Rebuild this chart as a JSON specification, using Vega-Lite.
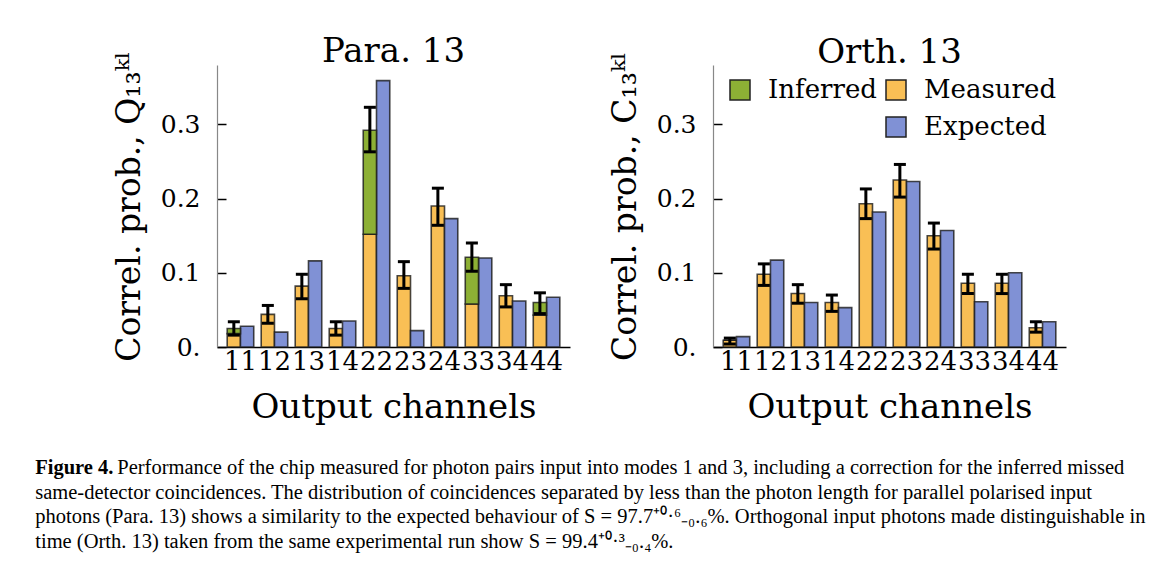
{
  "$schema": "https://vega.github.io/schema/vega-lite/v6.json",
  "background": "white",
  "padding": {"left": 35, "top": 34, "right": 5, "bottom": 5},
  "title": {
    "text": "Figure 4.",
    "subtitle": [
      "\u200B\u2003\u2003\u2003\u2003Performance of the chip measured for photon pairs input into modes 1 and 3, including a correction for the inferred missed",
      "same-detector coincidences. The distribution of coincidences separated by less than the photon length for parallel polarised input",
      "photons (Para. 13) shows a similarity to the expected behaviour of S = 97.7⁺⁰·⁶₋₀.₆%. Orthogonal input photons made distinguishable in",
      "time (Orth. 13) taken from the same experimental run show S = 99.4⁺⁰·³₋₀.₄%."
    ],
    "orient": "bottom",
    "anchor": "start",
    "frame": "bounds",
    "dx": -78,
    "offset": 34,
    "font": "Liberation Serif",
    "fontSize": 20.5,
    "fontWeight": "bold",
    "color": "black",
    "subtitleFont": "Liberation Serif",
    "subtitleFontSize": 20.5,
    "subtitleFontWeight": "normal",
    "subtitleColor": "black",
    "subtitleLineHeight": 24.7,
    "subtitlePadding": -20.5
  },
  "config": {
    "font": "DejaVu Serif",
    "view": {"stroke": null},
    "title": {"font": "DejaVu Serif", "fontSize": 34, "fontWeight": "normal", "color": "black", "offset": -18, "baseline": "alphabetic"},
    "axisY": {"domainColor": "#888888", "domainWidth": 1.2, "tickColor": "black", "tickWidth": 1.5, "tickSize": -9, "labelFont": "DejaVu Serif", "labelFontSize": 25, "labelColor": "black", "labelPadding": 26, "titleFont": "DejaVu Serif", "titleFontSize": 33, "titleFontWeight": "normal", "titleColor": "black", "titlePadding": 14, "grid": false},
    "axisX": {"domainColor": "black", "domainWidth": 1.5, "ticks": false, "labelFont": "DejaVu Serif", "labelFontSize": 26, "labelColor": "black", "labelPadding": 1, "labelAngle": 0, "labelOverlap": false, "titleFont": "DejaVu Serif", "titleFontSize": 34, "titleFontWeight": "normal", "titleColor": "black", "titlePadding": 16, "grid": false},
    "legend": {"symbolType": "square", "symbolSize": 400, "symbolStrokeColor": "#222222", "symbolStrokeWidth": 1.5, "labelFont": "DejaVu Serif", "labelFontSize": 26, "labelColor": "black", "labelOffset": 15, "rowPadding": 11, "padding": 0, "symbolOpacity": 1}
  },
  "datasets": {
    "bars": [
      {"panel": "Para", "ch": "11", "series": "Measured", "value": 0.018},
      {"panel": "Para", "ch": "11", "series": "Expected", "value": 0.028},
      {"panel": "Para", "ch": "12", "series": "Measured", "value": 0.044},
      {"panel": "Para", "ch": "12", "series": "Expected", "value": 0.020},
      {"panel": "Para", "ch": "13", "series": "Measured", "value": 0.082},
      {"panel": "Para", "ch": "13", "series": "Expected", "value": 0.116},
      {"panel": "Para", "ch": "14", "series": "Measured", "value": 0.025},
      {"panel": "Para", "ch": "14", "series": "Expected", "value": 0.035},
      {"panel": "Para", "ch": "22", "series": "Measured", "value": 0.152},
      {"panel": "Para", "ch": "22", "series": "Expected", "value": 0.359},
      {"panel": "Para", "ch": "23", "series": "Measured", "value": 0.096},
      {"panel": "Para", "ch": "23", "series": "Expected", "value": 0.022},
      {"panel": "Para", "ch": "24", "series": "Measured", "value": 0.190},
      {"panel": "Para", "ch": "24", "series": "Expected", "value": 0.173},
      {"panel": "Para", "ch": "33", "series": "Measured", "value": 0.058},
      {"panel": "Para", "ch": "33", "series": "Expected", "value": 0.120},
      {"panel": "Para", "ch": "34", "series": "Measured", "value": 0.069},
      {"panel": "Para", "ch": "34", "series": "Expected", "value": 0.062},
      {"panel": "Para", "ch": "44", "series": "Measured", "value": 0.043},
      {"panel": "Para", "ch": "44", "series": "Expected", "value": 0.067},
      {"panel": "Orth", "ch": "11", "series": "Measured", "value": 0.009},
      {"panel": "Orth", "ch": "11", "series": "Expected", "value": 0.014},
      {"panel": "Orth", "ch": "12", "series": "Measured", "value": 0.098},
      {"panel": "Orth", "ch": "12", "series": "Expected", "value": 0.117},
      {"panel": "Orth", "ch": "13", "series": "Measured", "value": 0.072},
      {"panel": "Orth", "ch": "13", "series": "Expected", "value": 0.060},
      {"panel": "Orth", "ch": "14", "series": "Measured", "value": 0.060},
      {"panel": "Orth", "ch": "14", "series": "Expected", "value": 0.053},
      {"panel": "Orth", "ch": "22", "series": "Measured", "value": 0.193},
      {"panel": "Orth", "ch": "22", "series": "Expected", "value": 0.182},
      {"panel": "Orth", "ch": "23", "series": "Measured", "value": 0.225},
      {"panel": "Orth", "ch": "23", "series": "Expected", "value": 0.223},
      {"panel": "Orth", "ch": "24", "series": "Measured", "value": 0.150},
      {"panel": "Orth", "ch": "24", "series": "Expected", "value": 0.157},
      {"panel": "Orth", "ch": "33", "series": "Measured", "value": 0.086},
      {"panel": "Orth", "ch": "33", "series": "Expected", "value": 0.061},
      {"panel": "Orth", "ch": "34", "series": "Measured", "value": 0.086},
      {"panel": "Orth", "ch": "34", "series": "Expected", "value": 0.100},
      {"panel": "Orth", "ch": "44", "series": "Measured", "value": 0.026},
      {"panel": "Orth", "ch": "44", "series": "Expected", "value": 0.034}
    ],
    "inferred": [
      {"panel": "Para", "ch": "11", "series": "Measured", "kind": "Inferred", "measured": 0.018, "total": 0.025},
      {"panel": "Para", "ch": "22", "series": "Measured", "kind": "Inferred", "measured": 0.152, "total": 0.292},
      {"panel": "Para", "ch": "33", "series": "Measured", "kind": "Inferred", "measured": 0.058, "total": 0.121},
      {"panel": "Para", "ch": "44", "series": "Measured", "kind": "Inferred", "measured": 0.043, "total": 0.060},
      {"panel": "Orth", "ch": "11", "series": "Measured", "kind": "Inferred", "measured": 0.009, "total": 0.009}
    ],
    "errs": [
      {"panel": "Para", "ch": "11", "series": "Measured", "lo": 0.016, "hi": 0.034},
      {"panel": "Para", "ch": "12", "series": "Measured", "lo": 0.032, "hi": 0.056},
      {"panel": "Para", "ch": "13", "series": "Measured", "lo": 0.065, "hi": 0.098},
      {"panel": "Para", "ch": "14", "series": "Measured", "lo": 0.016, "hi": 0.034},
      {"panel": "Para", "ch": "22", "series": "Measured", "lo": 0.263, "hi": 0.323},
      {"panel": "Para", "ch": "23", "series": "Measured", "lo": 0.079, "hi": 0.115},
      {"panel": "Para", "ch": "24", "series": "Measured", "lo": 0.164, "hi": 0.214},
      {"panel": "Para", "ch": "33", "series": "Measured", "lo": 0.102, "hi": 0.140},
      {"panel": "Para", "ch": "34", "series": "Measured", "lo": 0.054, "hi": 0.084},
      {"panel": "Para", "ch": "44", "series": "Measured", "lo": 0.045, "hi": 0.073},
      {"panel": "Orth", "ch": "11", "series": "Measured", "lo": 0.004, "hi": 0.012},
      {"panel": "Orth", "ch": "12", "series": "Measured", "lo": 0.083, "hi": 0.112},
      {"panel": "Orth", "ch": "13", "series": "Measured", "lo": 0.059, "hi": 0.084},
      {"panel": "Orth", "ch": "14", "series": "Measured", "lo": 0.048, "hi": 0.070},
      {"panel": "Orth", "ch": "22", "series": "Measured", "lo": 0.173, "hi": 0.213},
      {"panel": "Orth", "ch": "23", "series": "Measured", "lo": 0.202, "hi": 0.246},
      {"panel": "Orth", "ch": "24", "series": "Measured", "lo": 0.132, "hi": 0.167},
      {"panel": "Orth", "ch": "33", "series": "Measured", "lo": 0.072, "hi": 0.098},
      {"panel": "Orth", "ch": "34", "series": "Measured", "lo": 0.072, "hi": 0.098},
      {"panel": "Orth", "ch": "44", "series": "Measured", "lo": 0.020, "hi": 0.034}
    ]
  },
  "hconcat": [
    {
      "width": 353,
      "height": 282,
      "title": {"text": "Para. 13"},
      "layer": [
        {
          "data": {"name": "bars"},
          "transform": [{"filter": "datum.panel === 'Para'"}],
          "mark": {"type": "bar", "stroke": "#1a1a1a", "strokeWidth": 1.6, "strokeOpacity": 0.8},
          "encoding": {
            "x": {"field": "ch", "type": "nominal", "title": "Output channels", "scale": {"paddingInner": 0.22, "paddingOuter": 0.3}},
            "xOffset": {"field": "series", "type": "nominal", "scale": {"domain": ["Measured", "Expected"], "paddingInner": 0, "paddingOuter": 0}},
            "y": {"field": "value", "type": "quantitative", "title": "Correl. prob., Q₁₃ᵏˡ", "scale": {"domain": [0, 0.38], "nice": false}, "axis": {"values": [0, 0.1, 0.2, 0.3], "labelExpr": "datum.value == 0 ? '0.' : format(datum.value, '.1f')"}},
            "fill": {"field": "series", "type": "nominal", "scale": {"domain": ["Measured", "Expected"], "range": ["#F9BF55", "#8091D5"]}, "legend": null}
          }
        },
        {
          "data": {"name": "inferred"},
          "transform": [{"filter": "datum.panel === 'Para'"}],
          "mark": {"type": "bar", "stroke": "#1a1a1a", "strokeWidth": 1.6, "strokeOpacity": 0.8},
          "encoding": {
            "x": {"field": "ch", "type": "nominal"},
            "xOffset": {"field": "series", "type": "nominal"},
            "y": {"field": "total", "type": "quantitative"},
            "y2": {"field": "measured"},
            "fill": {"field": "kind", "type": "nominal", "scale": {"domain": ["Inferred"], "range": ["#8DB035"]}, "legend": null}
          }
        },
        {
          "data": {"name": "errs"},
          "transform": [{"filter": "datum.panel === 'Para'"}],
          "mark": {"type": "rule", "strokeWidth": 3, "color": "black"},
          "encoding": {
            "x": {"field": "ch", "type": "nominal"},
            "xOffset": {"field": "series", "type": "nominal"},
            "y": {"field": "lo", "type": "quantitative"},
            "y2": {"field": "hi"}
          }
        },
        {
          "data": {"name": "errs"},
          "transform": [{"filter": "datum.panel === 'Para'"}],
          "mark": {"type": "tick", "thickness": 3, "size": 12, "color": "black", "opacity": 1},
          "encoding": {
            "x": {"field": "ch", "type": "nominal"},
            "xOffset": {"field": "series", "type": "nominal"},
            "y": {"field": "lo", "type": "quantitative"}
          }
        },
        {
          "data": {"name": "errs"},
          "transform": [{"filter": "datum.panel === 'Para'"}],
          "mark": {"type": "tick", "thickness": 3, "size": 12, "color": "black", "opacity": 1},
          "encoding": {
            "x": {"field": "ch", "type": "nominal"},
            "xOffset": {"field": "series", "type": "nominal"},
            "y": {"field": "hi", "type": "quantitative"}
          }
        }
      ],
      "resolve": {"scale": {"fill": "independent"}}
    },
    {
      "width": 353,
      "height": 282,
      "title": {"text": "Orth. 13"},
      "layer": [
        {
          "data": {"name": "bars"},
          "transform": [{"filter": "datum.panel === 'Orth'"}],
          "mark": {"type": "bar", "stroke": "#1a1a1a", "strokeWidth": 1.6, "strokeOpacity": 0.8},
          "encoding": {
            "x": {"field": "ch", "type": "nominal", "title": "Output channels", "scale": {"paddingInner": 0.22, "paddingOuter": 0.3}},
            "xOffset": {"field": "series", "type": "nominal", "scale": {"domain": ["Measured", "Expected"], "paddingInner": 0, "paddingOuter": 0}},
            "y": {"field": "value", "type": "quantitative", "title": "Correl. prob., C₁₃ᵏˡ", "scale": {"domain": [0, 0.38], "nice": false}, "axis": {"values": [0, 0.1, 0.2, 0.3], "labelExpr": "datum.value == 0 ? '0.' : format(datum.value, '.1f')"}},
            "fill": {"field": "series", "type": "nominal", "scale": {"domain": ["Measured", "Expected"], "range": ["#F9BF55", "#8091D5"]}, "legend": {"title": null, "orient": "none", "legendX": 170, "legendY": 12, "direction": "vertical"}}
          }
        },
        {
          "data": {"name": "inferred"},
          "transform": [{"filter": "datum.panel === 'Orth'"}],
          "mark": {"type": "bar", "stroke": "#1a1a1a", "strokeWidth": 1.6, "strokeOpacity": 0.8},
          "encoding": {
            "x": {"field": "ch", "type": "nominal"},
            "xOffset": {"field": "series", "type": "nominal"},
            "y": {"field": "total", "type": "quantitative"},
            "y2": {"field": "measured"},
            "fill": {"field": "kind", "type": "nominal", "scale": {"domain": ["Inferred"], "range": ["#8DB035"]}, "legend": {"title": null, "orient": "none", "legendX": 14, "legendY": 12}}
          }
        },
        {
          "data": {"name": "errs"},
          "transform": [{"filter": "datum.panel === 'Orth'"}],
          "mark": {"type": "rule", "strokeWidth": 3, "color": "black"},
          "encoding": {
            "x": {"field": "ch", "type": "nominal"},
            "xOffset": {"field": "series", "type": "nominal"},
            "y": {"field": "lo", "type": "quantitative"},
            "y2": {"field": "hi"}
          }
        },
        {
          "data": {"name": "errs"},
          "transform": [{"filter": "datum.panel === 'Orth'"}],
          "mark": {"type": "tick", "thickness": 3, "size": 12, "color": "black", "opacity": 1},
          "encoding": {
            "x": {"field": "ch", "type": "nominal"},
            "xOffset": {"field": "series", "type": "nominal"},
            "y": {"field": "lo", "type": "quantitative"}
          }
        },
        {
          "data": {"name": "errs"},
          "transform": [{"filter": "datum.panel === 'Orth'"}],
          "mark": {"type": "tick", "thickness": 3, "size": 12, "color": "black", "opacity": 1},
          "encoding": {
            "x": {"field": "ch", "type": "nominal"},
            "xOffset": {"field": "series", "type": "nominal"},
            "y": {"field": "hi", "type": "quantitative"}
          }
        }
      ],
      "resolve": {"scale": {"fill": "independent"}}
    }
  ],
  "spacing": 39
}
